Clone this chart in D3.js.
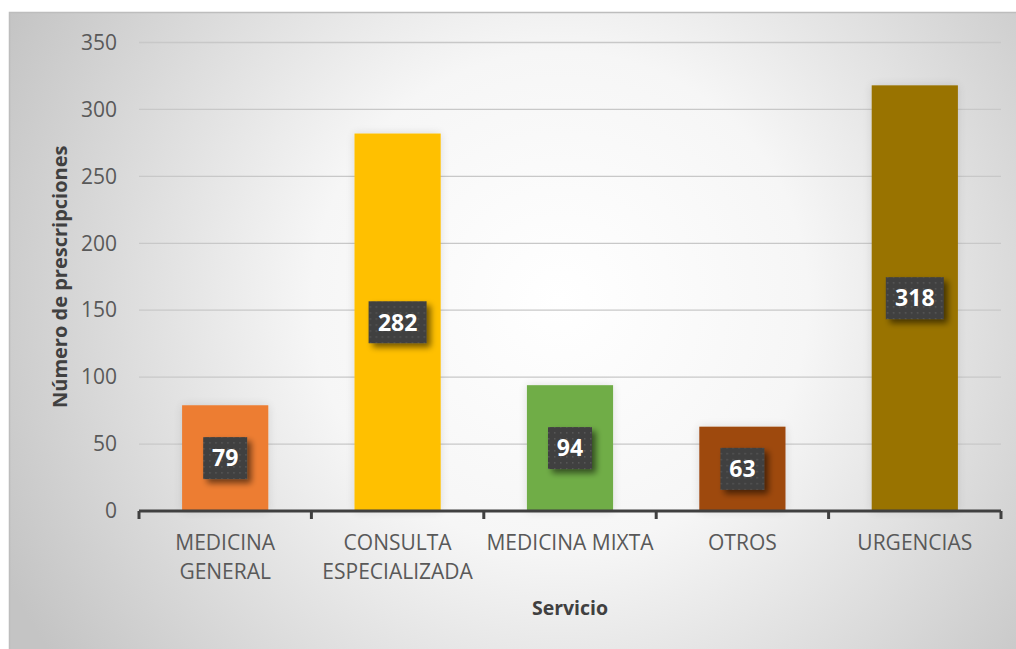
<!DOCTYPE html>
<html><head><meta charset="utf-8">
<script src="https://cdn.jsdelivr.net/npm/d3@7"></script>
<style>body{margin:0;background:#fff;}svg{display:block;}</style>
</head><body>
<svg id="c" width="1016" height="649"></svg>
<script>
const categories = ["MEDICINA GENERAL", "CONSULTA ESPECIALIZADA", "MEDICINA MIXTA", "OTROS", "URGENCIAS"];
const categoryLines = [["MEDICINA","GENERAL"],["CONSULTA","ESPECIALIZADA"],["MEDICINA MIXTA"],["OTROS"],["URGENCIAS"]];
const values = [79, 282, 94, 63, 318];
const colors = ["#ED7D31", "#FFC000", "#70AD47", "#9E480E", "#997300"];
const yTicks = [0, 50, 100, 150, 200, 250, 300, 350];
const yTitle = "Número de prescripciones";
const xTitle = "Servicio";

const svg = d3.select("#c");
const defs = svg.append("defs");
const rg = defs.append("radialGradient").attr("id","bg").attr("gradientUnits","userSpaceOnUse")
  .attr("cx",560).attr("cy",300).attr("r",620);
rg.append("stop").attr("offset","0%").attr("stop-color","#ffffff");
rg.append("stop").attr("offset","40%").attr("stop-color","#f6f6f6");
rg.append("stop").attr("offset","100%").attr("stop-color","#c4c4c4");

const pat = defs.append("pattern").attr("id","dots").attr("patternUnits","userSpaceOnUse")
  .attr("width",6).attr("height",6);
pat.append("rect").attr("width",6).attr("height",6).attr("fill","#404040");
pat.append("rect").attr("x",2).attr("y",2).attr("width",1.5).attr("height",1.5).attr("fill","#585858");

const sh = defs.append("filter").attr("id","sh").attr("x","-30%").attr("y","-30%").attr("width","170%").attr("height","170%");
sh.append("feGaussianBlur").attr("in","SourceAlpha").attr("stdDeviation",3);
sh.append("feOffset").attr("dx",4).attr("dy",4).attr("result","b");
sh.append("feComponentTransfer").append("feFuncA").attr("type","linear").attr("slope",0.55);
const m = sh.append("feMerge"); m.append("feMergeNode"); m.append("feMergeNode").attr("in","SourceGraphic");

const bsh = defs.append("filter").attr("id","bsh").attr("x","-20%").attr("y","-10%").attr("width","140%").attr("height","120%");
bsh.append("feGaussianBlur").attr("in","SourceAlpha").attr("stdDeviation",5);
bsh.append("feComponentTransfer").append("feFuncA").attr("type","linear").attr("slope",0.12);
const m2 = bsh.append("feMerge"); m2.append("feMergeNode"); m2.append("feMergeNode").attr("in","SourceGraphic");

svg.append("rect").attr("x",9.5).attr("y",12.5).attr("width",1010).attr("height",640)
  .attr("fill","url(#bg)").attr("stroke","#bdbdbd").attr("stroke-width",1.5);

const x0 = 139, x1 = 1001;
const x = d3.scaleBand().domain(categories).range([x0, x1]).paddingInner(0.5).paddingOuter(0.25);
const xb = d3.scaleBand().domain(categories).range([x0, x1]);
const y = d3.scaleLinear().domain([0, 350]).range([511, 42.5]);

const font = "'Open Sans', sans-serif";

// gridlines
svg.append("g").selectAll("line").data(yTicks.filter(d=>d>0)).join("line")
  .attr("x1",x0).attr("x2",x1).attr("y1",d=>y(d)).attr("y2",d=>y(d))
  .attr("stroke","#c8c8c8").attr("stroke-width",1.3);

// y axis labels
const ya = svg.append("g").attr("transform",`translate(${x0},0)`)
  .call(d3.axisLeft(y).tickValues(yTicks).tickSize(0).tickPadding(22));
ya.select(".domain").remove();
ya.selectAll("text").attr("font-family",font).attr("font-size",21).attr("fill","#595959");

// bars
svg.append("g").selectAll("rect").data(values).join("rect")
  .attr("x",(d,i)=>x(categories[i])).attr("width",x.bandwidth())
  .attr("y",d=>y(d)).attr("height",d=>y(0)-y(d))
  .attr("fill",(d,i)=>colors[i]).attr("filter","url(#bsh)");

// x axis
const xa = svg.append("g").attr("transform",`translate(0,${y(0)})`)
  .call(d3.axisBottom(xb).tickSize(0).tickFormat(""));
xa.select(".domain").remove();
svg.append("line").attr("x1",x0).attr("x2",x1).attr("y1",y(0)).attr("y2",y(0))
  .attr("stroke","#404040").attr("stroke-width",3);
const bounds = categories.map(c=>xb(c)).concat([x1]);
svg.append("g").selectAll("line").data(bounds).join("line")
  .attr("x1",d=>d).attr("x2",d=>d).attr("y1",y(0)).attr("y2",y(0)+8)
  .attr("stroke","#404040").attr("stroke-width",3);

// category labels
const cl = svg.append("g").selectAll("text").data(categoryLines).join("text")
  .attr("x",(d,i)=>xb(categories[i])+xb.bandwidth()/2).attr("y",550)
  .attr("text-anchor","middle").attr("font-family",font).attr("font-size",21).attr("fill","#595959");
cl.selectAll("tspan").data(d=>d).join("tspan")
  .attr("x",function(){return this.parentNode.getAttribute("x");})
  .attr("dy",(d,i)=>i===0?0:29).text(d=>d);

// data labels
const lg = svg.append("g").selectAll("g").data(values).join("g")
  .attr("transform",(d,i)=>`translate(${x(categories[i])+x.bandwidth()/2},${y(d/2)})`);
lg.append("rect").attr("x",d=>-(String(d).length*7+8)).attr("width",d=>String(d).length*14+16)
  .attr("y",-21).attr("height",42).attr("fill","url(#dots)").attr("filter","url(#sh)");
lg.append("text").attr("text-anchor","middle").attr("dy","0.36em")
  .attr("font-family",font).attr("font-weight","bold").attr("font-size",23).attr("fill","#fff").text(d=>d);

// titles
svg.append("text").attr("transform",`translate(67,${y(175)}) rotate(-90)`).attr("text-anchor","middle")
  .attr("font-family",font).attr("font-weight","bold").attr("font-size",20).attr("fill","#404040").text(yTitle);
svg.append("text").attr("x",(x0+x1)/2).attr("y",615).attr("text-anchor","middle")
  .attr("font-family",font).attr("font-weight","bold").attr("font-size",19.5).attr("fill","#404040").text(xTitle);
</script>
</body></html>
